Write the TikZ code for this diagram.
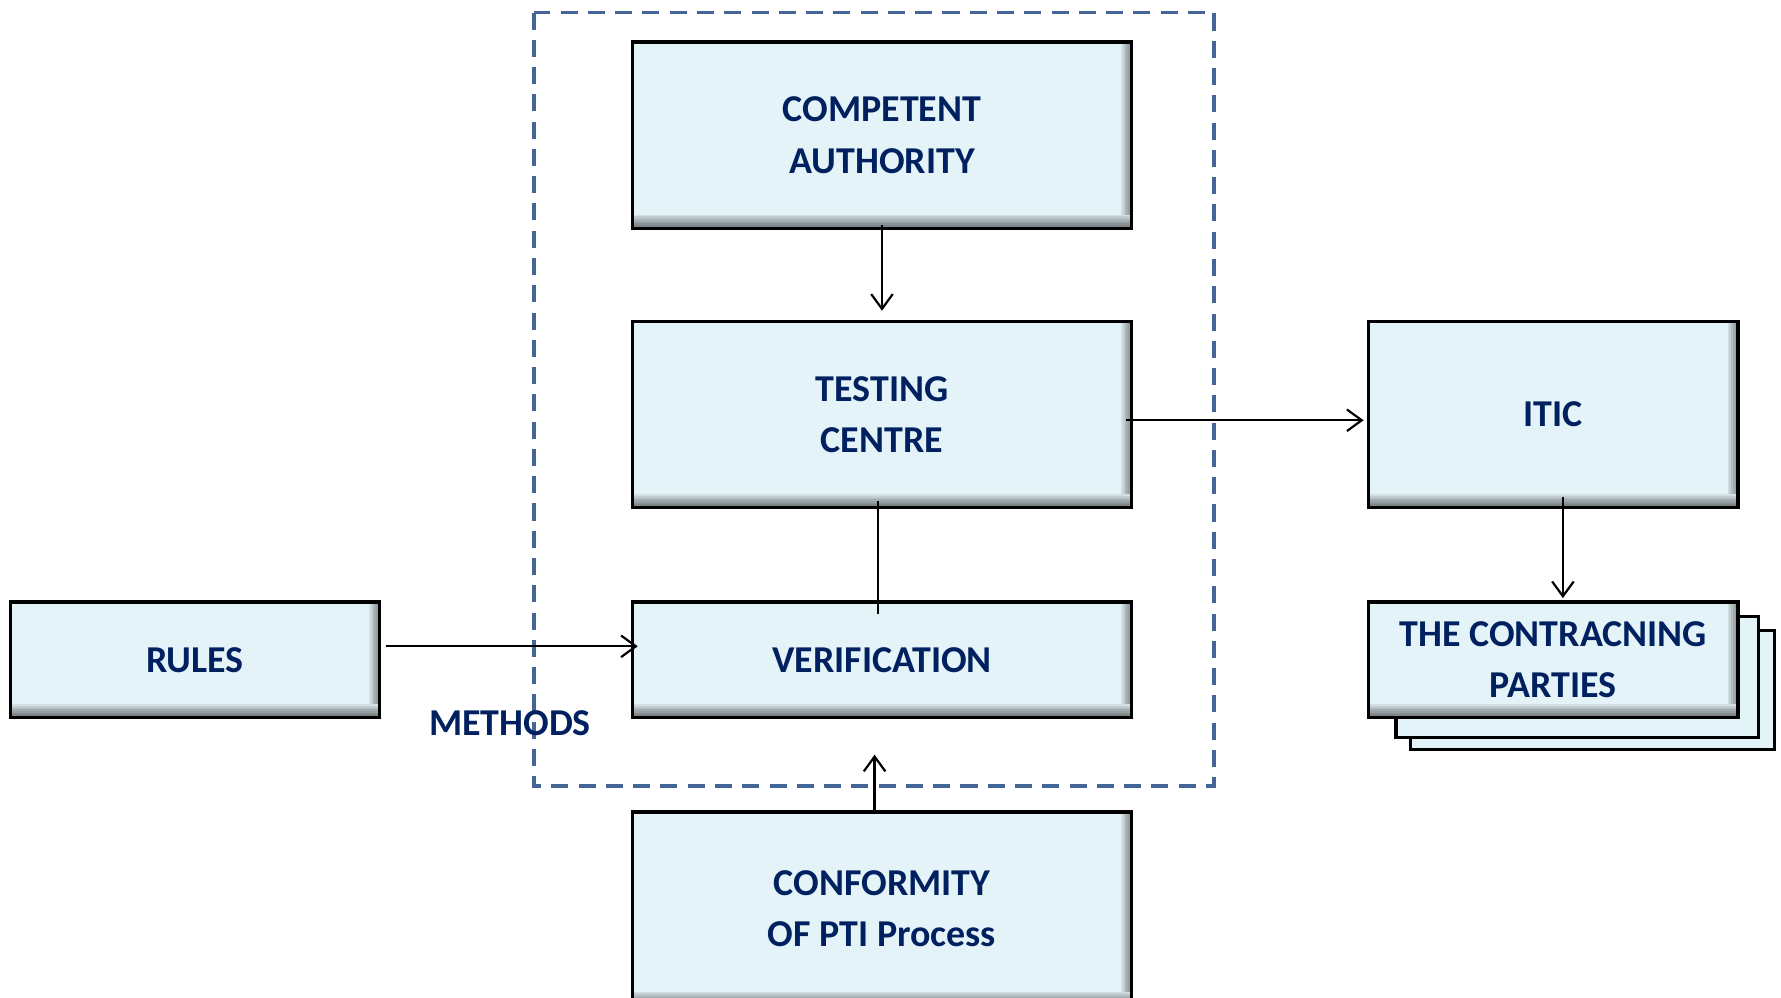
\documentclass[tikz,border=0pt]{standalone}
\usepackage{fontspec}
\setmainfont{Carlito}
\usetikzlibrary{arrows.meta}

\definecolor{boxfill}{RGB}{228,243,247}
\definecolor{boxtext}{RGB}{0,32,96}
\definecolor{frameblue}{RGB}{68,102,150}

\tikzset{
	blockbox/.style={draw, line width=0.8pt, fill=boxfill, inner sep=0pt, align=center,
		text=boxtext, font=\fontsize{9.5}{12.8}\selectfont\bfseries,
		path picture={
			\foreach \k in {1,...,8}
				\fill[black, opacity=0.08] (path picture bounding box.south west) rectangle ([yshift=\k*0.15mm]path picture bounding box.south east);
			\foreach \k in {1,...,6}
				\fill[black, opacity=0.08] ([xshift=-\k*0.15mm]path picture bounding box.north east) rectangle ([yshift=1.2mm]path picture bounding box.south east);
		}},
	backbox/.style={draw, line width=0.8pt, fill=boxfill},
	link/.style={line width=0.55pt, -{Straight Barb[length=1.3mm, width=1.9mm]}},
}

\begin{document}
\begin{tikzpicture}[x=0.01cm, y=-0.01cm]
	\useasboundingbox (0,0) rectangle (1568,878);

	% dashed frame round the PTI scheme
	\draw[frameblue, line width=0.9pt, dash pattern=on 1.5mm off 0.9mm] (470,11) rectangle (1069,692);

	\node[blockbox, minimum width=4.39cm, minimum height=1.64cm] (authority) at (776.5,119) {COMPETENT\\AUTHORITY};
	\node[blockbox, minimum width=4.39cm, minimum height=1.64cm] (centre) at (776.5,365) {TESTING\\CENTRE};
	\node[blockbox, minimum width=4.39cm, minimum height=1.02cm] (verif) at (776.5,581) {VERIFICATION};
	\node[blockbox, minimum width=3.25cm, minimum height=1.02cm] (rules) at (171.5,581) {RULES};
	\node[blockbox, minimum width=3.25cm, minimum height=1.64cm] (itic) at (1367.5,365) {ITIC};
	\node[blockbox, minimum width=4.39cm, minimum height=1.70cm] (conform) at (776.5,800) {CONFORMITY\\OF PTI Process};

	% stacked sheets behind the parties
	\draw[backbox] (1242,555) rectangle (1562,660);
	\draw[backbox] (1229,543) rectangle (1548,649);
	\node[blockbox, minimum width=3.25cm, minimum height=1.02cm] (parties) at (1367.5,581) {THE CONTRACNING\\PARTIES};

	\node[text=boxtext, font=\fontsize{9.5}{12.8}\selectfont\bfseries] (methods) at (449,637) {METHODS};

	\draw[link] ([yshift=0.4mm]authority.south) -- ([yshift=0.8mm]centre.north);
	\draw[link] ([xshift=-0.6mm, yshift=-0.5mm]centre.east) -- ([xshift=-0.3mm, yshift=-0.5mm]itic.west);
	\draw[link] ([xshift=0.85mm, yshift=1.1mm]itic.south) -- ([xshift=0.85mm, yshift=0.2mm]parties.north);
	\draw[line width=0.55pt] ([xshift=-0.35mm, yshift=0.7mm]centre.south) -- ([xshift=-0.35mm, yshift=-1.2mm]verif.north);
	\draw[link] ([xshift=0.4mm, yshift=1.2mm]rules.east) -- ([xshift=0.6mm, yshift=1.2mm]verif.west);
	\draw[link] ([xshift=-0.65mm]conform.north) -- ([xshift=-0.65mm, yshift=-3.1mm]verif.south);
\end{tikzpicture}
\end{document}
